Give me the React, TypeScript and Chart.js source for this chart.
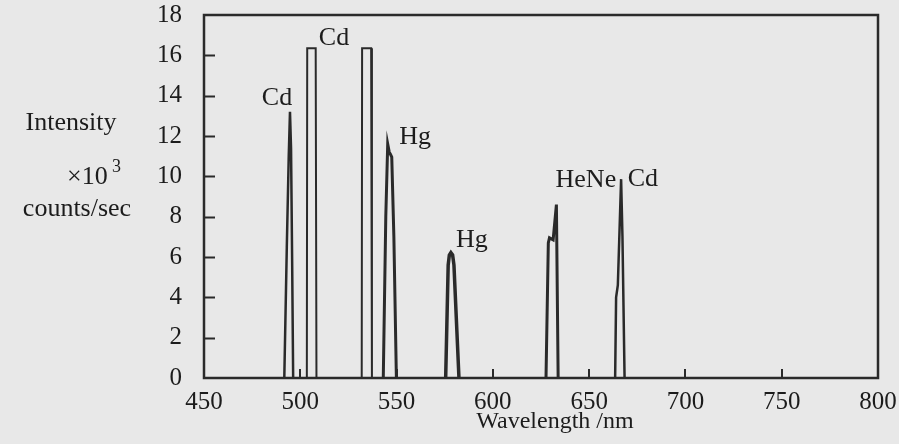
import React, { useEffect, useRef } from 'react';
import { Chart, registerables } from 'chart.js';

Chart.register(...registerables);

// Axis ranges / ticks
const xMin = 450;
const xMax = 800;
const xStep = 50;
const yMin = 0;
const yMax = 18;
const yStep = 2;

// Spectral peaks (wavelength nm, intensity x10^3 counts/sec)
const cd495Wl = [491.7, 493.0, 494.0, 494.65, 495.2, 495.8, 496.3];
const cd495Int = [0, 6.5, 11.0, 13.2, 11.4, 5.5, 0];

const cdSatAWl = [503.4, 503.6, 508.0, 508.4];
const cdSatAInt = [0, 16.35, 16.35, 0];

const cdSatBWl = [531.9, 532.1, 536.8, 537.2];
const cdSatBInt = [0, 16.35, 16.35, 0];

const hg546Wl = [543.1, 544.4, 545.4, 546.2, 546.8, 547.5, 548.6, 549.9];
const hg546Int = [0, 8.0, 11.6, 11.2, 11.1, 10.95, 7.0, 0];

const hg577Wl = [575.5, 576.8, 577.4, 578.2, 579.1, 579.8, 582.4];
const hg577Int = [0, 5.6, 6.1, 6.22, 6.1, 5.6, 0];

const heNeWl = [627.6, 628.8, 629.4, 631.3, 633.0, 633.9];
const heNeInt = [0, 6.7, 6.95, 6.85, 8.6, 0];

const cd667Wl = [663.5, 664.0, 664.9, 666.6, 667.3, 668.4];
const cd667Int = [0, 4.0, 4.6, 9.86, 7.0, 0];

// Peak annotations
const peakLabelText = ['Cd', 'Cd', 'Hg', 'Hg', 'HeNe', 'Cd'];
const peakLabelWl = [487.9, 517.5, 559.6, 589.1, 648.3, 677.9];
const peakLabelInt = [13.9, 16.87, 11.96, 6.85, 9.83, 9.88];

// Axis titles
const xTitle = 'Wavelength /nm';
const yTitleTop = 'Intensity';
const yTitleMid = '\u00d710';
const yTitleSup = '3';
const yTitleBottom = 'counts/sec';

const FONT = '"Liberation Serif", "Times New Roman", serif';
const INK = '#1c1c1c';
const LINE = '#2a2a2a';
const BG = '#e8e8e8';

const toPoints = (wl: number[], it: number[]) => wl.map((w, i) => ({ x: w, y: it[i] }));

const decorPlugin = {
  id: 'decor',
  beforeDraw(chart: any) {
    const { ctx, width, height } = chart;
    ctx.save();
    ctx.fillStyle = BG;
    ctx.fillRect(0, 0, width, height);
    ctx.restore();
  },
  afterDatasetsDraw(chart: any) {
    const { ctx, chartArea } = chart;
    const xs = chart.scales.x;
    const ys = chart.scales.y;
    ctx.save();
    // frame
    ctx.strokeStyle = LINE;
    ctx.lineWidth = 2.5;
    ctx.strokeRect(chartArea.left, chartArea.top, chartArea.right - chartArea.left, chartArea.bottom - chartArea.top);
    // inward ticks
    ctx.lineWidth = 2;
    for (let v = yMin + yStep; v < yMax; v += yStep) {
      const py = Math.round(ys.getPixelForValue(v)) + 0.5;
      ctx.beginPath();
      ctx.moveTo(chartArea.left, py);
      ctx.lineTo(chartArea.left + 11, py);
      ctx.stroke();
    }
    for (let v = xMin + xStep; v < xMax; v += xStep) {
      const px = Math.round(xs.getPixelForValue(v));
      ctx.beginPath();
      ctx.moveTo(px, chartArea.bottom);
      ctx.lineTo(px, chartArea.bottom - 9);
      ctx.stroke();
    }
    // peak labels
    ctx.fillStyle = INK;
    ctx.font = `26px ${FONT}`;
    ctx.textAlign = 'center';
    ctx.textBaseline = 'middle';
    peakLabelText.forEach((t, i) => {
      ctx.fillText(t, xs.getPixelForValue(peakLabelWl[i]), ys.getPixelForValue(peakLabelInt[i]));
    });
    // x title
    ctx.textBaseline = 'alphabetic';
    ctx.font = `24px ${FONT}`;
    ctx.fillText(xTitle, 555, 428);
    // y title
    ctx.font = `26px ${FONT}`;
    ctx.fillText(yTitleTop, 71, 130);
    ctx.textAlign = 'left';
    ctx.fillText(yTitleMid, 67, 184);
    ctx.font = `18px ${FONT}`;
    ctx.fillText(yTitleSup, 112, 172);
    ctx.font = `26px ${FONT}`;
    ctx.textAlign = 'center';
    ctx.fillText(yTitleBottom, 77, 216);
    ctx.restore();
  },
};

export default function App() {
  const canvasRef = useRef<HTMLCanvasElement | null>(null);

  useEffect(() => {
    document.body.style.margin = '0';
    const canvas = canvasRef.current;
    if (!canvas) return;
    const mk = (wl: number[], it: number[], w: number) => ({
      data: toPoints(wl, it),
      borderColor: LINE,
      backgroundColor: LINE,
      borderWidth: w,
      pointRadius: 0,
      tension: 0,
      showLine: true,
      fill: false,
    });
    const chart = new Chart(canvas, {
      type: 'line',
      data: {
        datasets: [
          mk(cd495Wl, cd495Int, 2.5),
          mk(cdSatAWl, cdSatAInt, 2),
          mk(cdSatBWl, cdSatBInt, 2),
          mk(hg546Wl, hg546Int, 3),
          mk(hg577Wl, hg577Int, 3.5),
          mk(heNeWl, heNeInt, 3),
          mk(cd667Wl, cd667Int, 2.5),
        ],
      },
      plugins: [decorPlugin],
      options: {
        animation: false,
        responsive: false,
        devicePixelRatio: 1,
        layout: { padding: { left: 0, top: 15, right: 21, bottom: 0 } },
        plugins: { legend: { display: false }, tooltip: { enabled: false }, title: { display: false } },
        scales: {
          x: {
            type: 'linear',
            min: xMin,
            max: xMax,
            grid: { display: false },
            border: { display: false },
            ticks: { stepSize: xStep, padding: 1, color: INK, font: { family: FONT, size: 25 }, maxRotation: 0 },
            afterFit: (s: any) => {
              s.height = 66;
              s.paddingLeft = 0;
              s.paddingRight = 0;
              s.paddingTop = 0;
              s.paddingBottom = 0;
            },
          },
          y: {
            min: yMin,
            max: yMax,
            grid: { display: false },
            border: { display: false },
            ticks: { stepSize: yStep, padding: 14, color: INK, font: { family: FONT, size: 25 } },
            afterFit: (s: any) => {
              s.width = 204;
              s.paddingLeft = 0;
              s.paddingRight = 0;
              s.paddingTop = 0;
              s.paddingBottom = 0;
            },
          },
        },
      } as any,
    });
    return () => chart.destroy();
  }, []);

  return (
    <div style={{ width: 899, height: 444 }}>
      <canvas ref={canvasRef} width={899} height={444} style={{ display: 'block' }} />
    </div>
  );
}
